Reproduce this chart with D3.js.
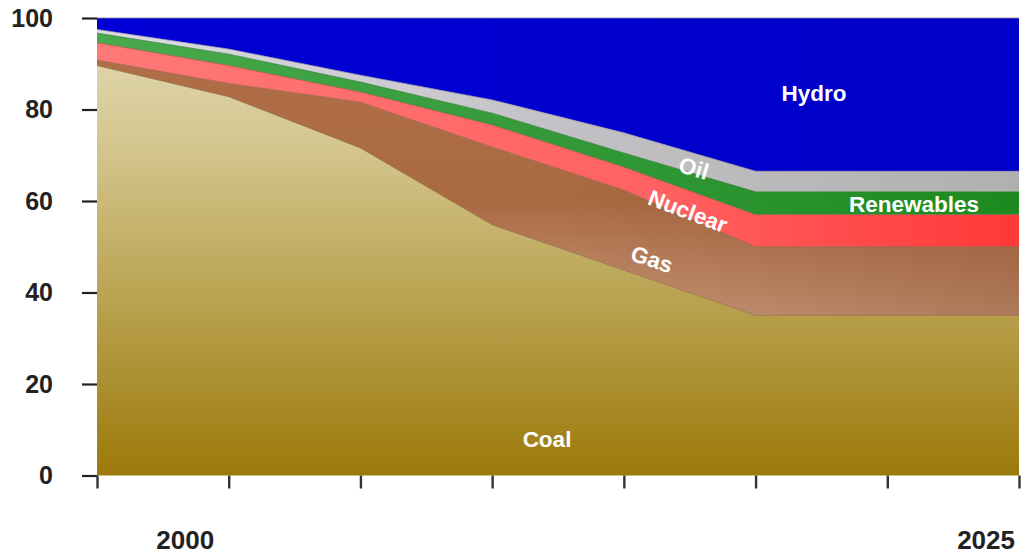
<!DOCTYPE html>
<html>
<head>
<meta charset="utf-8">
<script src="https://cdn.jsdelivr.net/npm/d3@7"></script>
<style>
  html, body { margin: 0; padding: 0; background: #ffffff; }
  svg { display: block; font-family: "Liberation Sans", Arial, Helvetica, sans-serif; }
</style>
</head>
<body>
<svg id="chart" width="1022" height="557"></svg>
<script>
// Share of electricity generation by source (%), sampled at eight evenly spaced points
const periods   = [0, 1, 2, 3, 4, 5, 6, 7];
const coal      = [89.6, 82.8, 71.6, 54.8, 44.9, 35, 35, 35];
const gas       = [1.2, 2.9, 10.0, 17.0, 17.5, 15, 15, 15];
const nuclear   = [3.8, 3.9, 2.2, 4.8, 5.0, 7, 7, 7];
const renewables= [2.1, 2.5, 2.2, 2.6, 3.1, 5, 5, 5];
const oil       = [0.8, 1.1, 1.5, 2.9, 4.4, 4.5, 4.5, 4.5];
const hydro     = [2.5, 6.8, 12.5, 17.9, 25.1, 33.5, 33.5, 33.5];

const sources   = ["Coal", "Gas", "Nuclear", "Renewables", "Oil", "Hydro"];
const yTicks    = [0, 20, 40, 60, 80, 100];
const yearLabels = ["2000", "2025"];

const seriesValues = { Coal: coal, Gas: gas, Nuclear: nuclear, Renewables: renewables, Oil: oil, Hydro: hydro };
const rows = periods.map((p, i) => {
  const r = { period: p };
  sources.forEach(s => { r[s] = seriesValues[s][i]; });
  return r;
});

const svg = d3.select("#chart");
const margin = { left: 97, right: 3, top: 18, bottom: 81.5 };
const W = 1022, H = 557;

const x = d3.scaleLinear().domain([0, 7]).range([margin.left, W - margin.right]);
const y = d3.scaleLinear().domain([0, 100]).range([H - margin.bottom, margin.top]);

const stacked = d3.stack().keys(sources)(rows);

// ---- gradients ----
const defs = svg.append("defs");
function linGrad(id, x1, y1, x2, y2, stops) {
  const g = defs.append("linearGradient").attr("id", id)
    .attr("gradientUnits", "userSpaceOnUse")
    .attr("x1", x1).attr("y1", y1).attr("x2", x2).attr("y2", y2);
  stops.forEach(([o, c]) => g.append("stop").attr("offset", o).attr("stop-color", c));
}
linGrad("gCoal", 0, y(100), 0, y(0), [[0, "#e4dcb8"], [0.3, "#d2c48a"], [1, "#9c790a"]]);
linGrad("gGas", 0, y(90), 0, y(30), [[0, "#b06e46"], [0.5, "#a96a42"], [1, "#cc9e82"]]);
linGrad("gGasShade", x(3.5), 0, x(7), 0, [[0, "rgba(110,50,15,0)"], [1, "rgba(110,50,15,0.28)"]]);
linGrad("gNuc", x(0), 0, x(7), 0, [[0, "#ff7878"], [0.6, "#ff6262"], [1, "#ff3838"]]);
linGrad("gRen", x(0), 0, x(7), 0, [[0, "#48aa4c"], [0.6, "#2f9634"], [1, "#1c8a1e"]]);
linGrad("gOil", x(0), 0, x(7), 0, [[0, "#dcdce4"], [0.5, "#c2c2c6"], [1, "#b0b0b0"]]);
linGrad("gHydro", x(0), 0, x(7), 0, [[0, "#0000d6"], [1, "#0000c8"]]);

const fills = {
  Coal: "url(#gCoal)", Gas: "url(#gGas)", Nuclear: "url(#gNuc)",
  Renewables: "url(#gRen)", Oil: "url(#gOil)", Hydro: "url(#gHydro)"
};
const edges = {
  Coal: "#8d6a3e", Gas: "#9a5a44", Nuclear: "#c04848",
  Renewables: "#2a7a2a", Oil: "#9a9aa0", Hydro: "#808080"
};

const area = d3.area()
  .x(d => x(d.data.period))
  .y0(d => y(d[0]))
  .y1(d => y(d[1]));
const topLine = d3.line()
  .x(d => x(d.data.period))
  .y(d => y(d[1]));

const plot = svg.append("g");
plot.selectAll("path.band")
  .data(stacked)
  .join("path")
  .attr("class", "band")
  .attr("d", area)
  .attr("fill", d => fills[d.key]);

// extra darkening toward the right of the gas band
plot.append("path")
  .attr("d", area(stacked[1]))
  .attr("fill", "url(#gGasShade)");

plot.selectAll("path.edge")
  .data(stacked)
  .join("path")
  .attr("class", "edge")
  .attr("d", topLine)
  .attr("fill", "none")
  .attr("stroke", d => edges[d.key])
  .attr("stroke-width", 0.9)
  .attr("stroke-opacity", 0.8);

// ---- axes ----
const yAxis = svg.append("g")
  .attr("transform", `translate(${margin.left},0)`)
  .call(d3.axisLeft(y).tickValues(yTicks).tickSize(15).tickPadding(29));
yAxis.select(".domain").remove();
yAxis.selectAll(".tick line").attr("stroke", "#222").attr("stroke-width", 2.2);
yAxis.selectAll(".tick text")
  .attr("fill", "#222").attr("font-size", 25).attr("font-weight", "bold")
  .attr("font-family", "'Liberation Sans', Arial, sans-serif");

const xAxis = svg.append("g")
  .attr("transform", `translate(0,${y(0)})`)
  .call(d3.axisBottom(x).tickValues(periods).tickSize(13).tickFormat(""));
xAxis.select(".domain").remove();
xAxis.selectAll(".tick line").attr("stroke", "#333").attr("stroke-width", 2.4);

// year captions under the axis
const yearPos = [0.67, 6.75];
svg.selectAll("text.year")
  .data(yearLabels)
  .join("text")
  .attr("class", "year")
  .attr("x", (d, i) => x(yearPos[i]))
  .attr("y", 549)
  .attr("text-anchor", "middle")
  .attr("fill", "#222")
  .attr("font-size", 26)
  .attr("font-weight", "bold")
  .text(d => d);

// ---- in-band labels ----
function bandMid(key, i) {
  const s = stacked.find(d => d.key === key)[i];
  return y((s[0] + s[1]) / 2);
}
function bandAngle(key) {
  const dy = bandMid(key, 5) - bandMid(key, 4);
  const dx = x(5) - x(4);
  return Math.atan2(dy, dx) * 180 / Math.PI;
}

const labels = [
  { text: "Hydro", px: 814, py: 93, angle: 0 },
  { text: "Oil", px: 694, py: 168, angle: bandAngle("Oil") },
  { text: "Nuclear", px: 688, py: 211, angle: bandAngle("Nuclear") - 1 },
  { text: "Gas", px: 652, py: 259, angle: bandAngle("Gas") - 3 },
  { text: "Renewables", px: 914, py: 204, angle: 0 },
  { text: "Coal", px: 547, py: 439, angle: 0 }
];
svg.selectAll("text.band-label")
  .data(labels)
  .join("text")
  .attr("class", "band-label")
  .attr("transform", d => `translate(${d.px},${d.py}) rotate(${d.angle})`)
  .attr("text-anchor", "middle")
  .attr("dy", "0.36em")
  .attr("fill", "#ffffff")
  .attr("font-size", 22.5)
  .attr("font-weight", "bold")
  .text(d => d.text);
</script>
</body>
</html>
